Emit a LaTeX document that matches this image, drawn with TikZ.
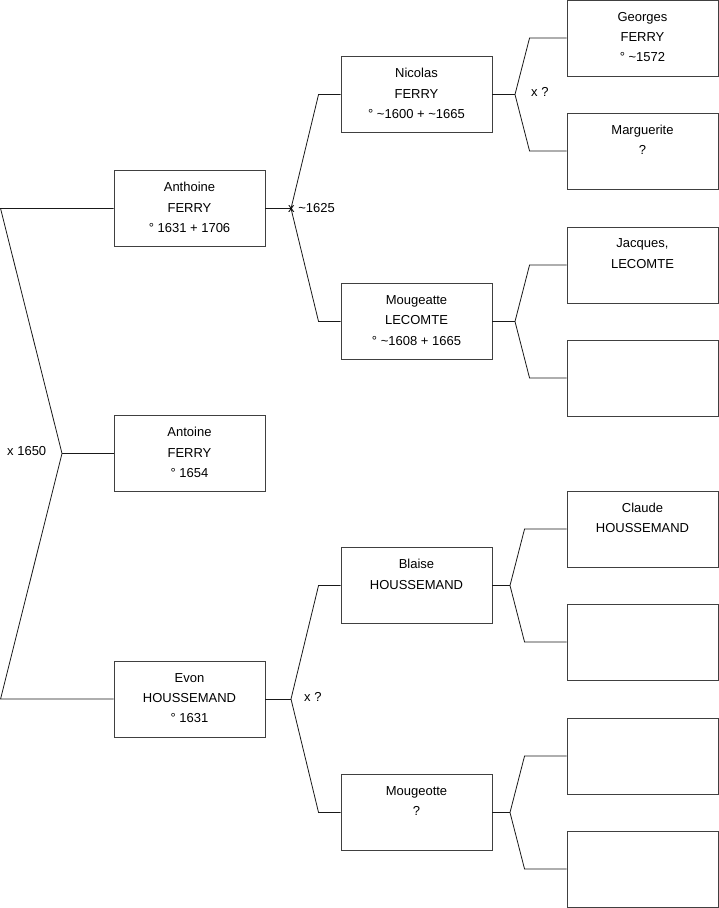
\documentclass[tikz,border=0pt]{standalone}
\usepackage{fontspec}
\setmainfont{Liberation Sans}

\begin{document}
\begin{tikzpicture}[
      x=1pt, y=-1pt,
      box/.style={draw=black!75, line width=0.9pt, minimum width=151pt, minimum height=76pt, inner sep=0pt},
      who/.style={anchor=north, yshift=-12.3pt, align=center, inner sep=0pt, font=\fontsize{13}{20.3}\selectfont},
      note/.style={anchor=west, inner sep=0pt, font=\fontsize{13}{15}\selectfont},
      tie/.style={draw=black!90, line width=0.8pt}
    ]
      \useasboundingbox (0,0) rectangle (719,908);

      % generation 1
      \node[box] (anthoine) at (189.5,208.5) {};
      \node[who] (anthoine-t) at (anthoine.north) {Anthoine\\FERRY\\° 1631 + 1706};
      \node[box] (antoine) at (189.5,453.5) {};
      \node[who] (antoine-t) at (antoine.north) {Antoine\\FERRY\\° 1654};
      \node[box] (evon) at (189.5,699) {};
      \node[who] (evon-t) at (evon.north) {Evon\\HOUSSEMAND\\° 1631};

      % generation 2
      \node[box] (nicolas) at (416.5,94.5) {};
      \node[who] (nicolas-t) at (nicolas.north) {Nicolas\\FERRY\\° \textasciitilde1600 + \textasciitilde1665};
      \node[box] (mougeatte) at (416.5,321.5) {};
      \node[who] (mougeatte-t) at (mougeatte.north) {Mougeatte\\LECOMTE\\° \textasciitilde1608 + 1665};
      \node[box] (blaise) at (416.5,585.5) {};
      \node[who] (blaise-t) at (blaise.north) {Blaise\\HOUSSEMAND};
      \node[box] (mougeotte) at (416.5,812.5) {};
      \node[who] (mougeotte-t) at (mougeotte.north) {Mougeotte\\?};

      % generation 3
      \node[box] (georges) at (642.5,38) {};
      \node[who] (georges-t) at (georges.north) {Georges\\FERRY\\° \textasciitilde1572};
      \node[box] (marguerite) at (642.5,151) {};
      \node[who] (marguerite-t) at (marguerite.north) {Marguerite\\?};
      \node[box] (jacques) at (642.5,265) {};
      \node[who] (jacques-t) at (jacques.north) {Jacques,\\LECOMTE};
      \node[box] (unk1) at (642.5,378) {};
      \node[box] (claude) at (642.5,529) {};
      \node[who] (claude-t) at (claude.north) {Claude\\HOUSSEMAND};
      \node[box] (unk2) at (642.5,642) {};
      \node[box] (unk3) at (642.5,756) {};
      \node[box] (unk4) at (642.5,869) {};

      % forks
      \coordinate (xroot) at (62,453.5);
      \coordinate (xanthoine) at (291,208.5);
      \coordinate (xevon) at (291,699);
      \coordinate (xnicolas) at (515,94.5);
      \coordinate (xmougeatte) at (515,321.5);
      \coordinate (xblaise) at (510,585.5);
      \coordinate (xmougeotte) at (510,812.5);

      \draw[tie] (anthoine.west) -- ++(-113,0) -- (xroot) -- ([xshift=-113pt]evon.west) -- (evon.west);
      \draw[tie] (xroot) -- (antoine.west);

      \draw[tie] (anthoine.east) -- (xanthoine);
      \draw[tie] (nicolas.west) -- ++(-22,0) -- (xanthoine) -- ([xshift=-22pt]mougeatte.west) -- (mougeatte.west);
      \draw[tie] (evon.east) -- (xevon);
      \draw[tie] (blaise.west) -- ++(-22,0) -- (xevon) -- ([xshift=-22pt]mougeotte.west) -- (mougeotte.west);

      \draw[tie] (nicolas.east) -- (xnicolas);
      \draw[tie] (georges.west) -- ++(-37,0) -- (xnicolas) -- ([xshift=-37pt]marguerite.west) -- (marguerite.west);
      \draw[tie] (mougeatte.east) -- (xmougeatte);
      \draw[tie] (jacques.west) -- ++(-37,0) -- (xmougeatte) -- ([xshift=-37pt]unk1.west) -- (unk1.west);
      \draw[tie] (blaise.east) -- (xblaise);
      \draw[tie] (claude.west) -- ++(-42,0) -- (xblaise) -- ([xshift=-42pt]unk2.west) -- (unk2.west);
      \draw[tie] (mougeotte.east) -- (xmougeotte);
      \draw[tie] (unk3.west) -- ++(-42,0) -- (xmougeotte) -- ([xshift=-42pt]unk4.west) -- (unk4.west);

      % marriage notes
      \node[note] (m1650) at (7,451.5) {x 1650};
      \node[note] (m1625) at (288,208) {x \textasciitilde1625};
      \node[note] (mnicolas) at (531,92) {x ?};
      \node[note] (mevon) at (304,697) {x ?};
    \end{tikzpicture}
\end{document}
